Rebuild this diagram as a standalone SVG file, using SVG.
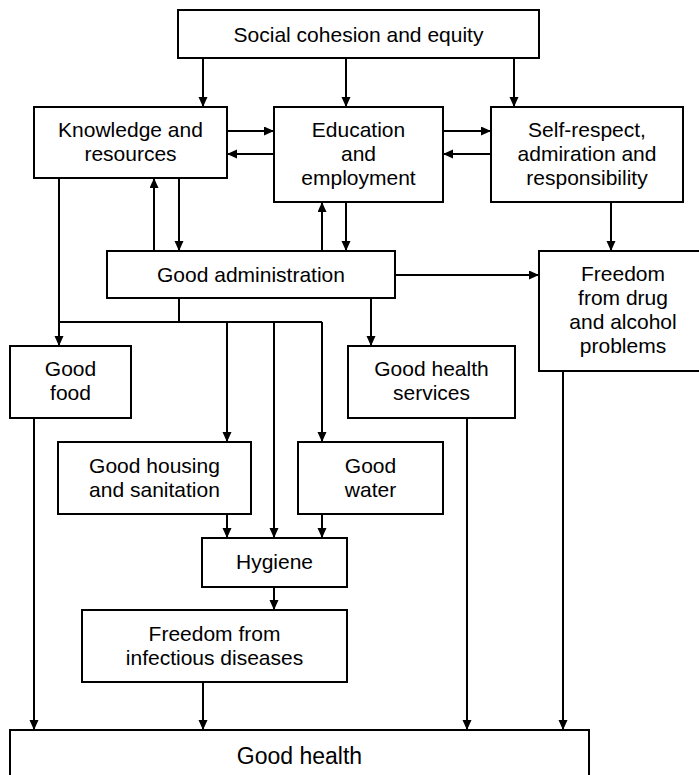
<svg xmlns="http://www.w3.org/2000/svg" width="699" height="775" viewBox="0 0 699 775">
<style>
.box{fill:#fff;stroke:#000;stroke-width:2}
.t{font-family:"Liberation Sans",Arial,sans-serif;font-size:21px;fill:#000;text-anchor:middle}
.c{fill:none;stroke:#000;stroke-width:2}
</style>
<defs>
<marker id="ah" markerUnits="userSpaceOnUse" markerWidth="11" markerHeight="10" refX="10" refY="4.5" orient="auto">
<path d="M0,0 L10,4.5 L0,9 z" fill="#000"/>
</marker>
</defs>
<rect width="699" height="775" fill="#fff"/>
<g id="connectors">
<path class="c" d="M203,58 V107" marker-end="url(#ah)"/>
<path class="c" d="M346,58 V107" marker-end="url(#ah)"/>
<path class="c" d="M514,58 V107" marker-end="url(#ah)"/>
<path class="c" d="M227,131 H274" marker-end="url(#ah)"/>
<path class="c" d="M274,154 H227" marker-end="url(#ah)"/>
<path class="c" d="M443,131 H491" marker-end="url(#ah)"/>
<path class="c" d="M491,154 H443" marker-end="url(#ah)"/>
<path class="c" d="M59,178 V346" marker-end="url(#ah)"/>
<path class="c" d="M154,251 V178" marker-end="url(#ah)"/>
<path class="c" d="M179,178 V251" marker-end="url(#ah)"/>
<path class="c" d="M322,251 V202" marker-end="url(#ah)"/>
<path class="c" d="M346,202 V251" marker-end="url(#ah)"/>
<path class="c" d="M395,275 H539" marker-end="url(#ah)"/>
<path class="c" d="M611,202 V251" marker-end="url(#ah)"/>
<path class="c" d="M371,298 V346" marker-end="url(#ah)"/>
<path class="c" d="M179,298 V322 M59,322 H322"/>
<path class="c" d="M227,322 V442" marker-end="url(#ah)"/>
<path class="c" d="M274,322 V538" marker-end="url(#ah)"/>
<path class="c" d="M322,322 V442" marker-end="url(#ah)"/>
<path class="c" d="M227,514 V538" marker-end="url(#ah)"/>
<path class="c" d="M322,514 V538" marker-end="url(#ah)"/>
<path class="c" d="M274,587 V610" marker-end="url(#ah)"/>
<path class="c" d="M34,418 V730" marker-end="url(#ah)"/>
<path class="c" d="M203,682 V730" marker-end="url(#ah)"/>
<path class="c" d="M467,418 V730" marker-end="url(#ah)"/>
<path class="c" d="M563,371 V730" marker-end="url(#ah)"/>
</g>
<g id="social"><rect class="box" x="178" y="10" width="361" height="48"/><text class="t" x="358.5" y="41.5">Social cohesion and equity</text></g>
<g id="knowledge"><rect class="box" x="34" y="107" width="193" height="71"/><text class="t" x="130.5" y="137">Knowledge and</text><text class="t" x="130.5" y="161">resources</text></g>
<g id="education"><rect class="box" x="274" y="107" width="169" height="95"/><text class="t" x="358.5" y="137">Education</text><text class="t" x="358.5" y="161">and</text><text class="t" x="358.5" y="185">employment</text></g>
<g id="selfrespect"><rect class="box" x="491" y="107" width="192" height="95"/><text class="t" x="587" y="137">Self-respect,</text><text class="t" x="587" y="161">admiration and</text><text class="t" x="587" y="185">responsibility</text></g>
<g id="admin"><rect class="box" x="107" y="251" width="288" height="47"/><text class="t" x="251" y="282">Good administration</text></g>
<g id="drug"><rect class="box" x="539" y="251" width="170" height="120"/><text class="t" x="623" y="281">Freedom</text><text class="t" x="623" y="305">from drug</text><text class="t" x="623" y="329">and alcohol</text><text class="t" x="623" y="353">problems</text></g>
<g id="food"><rect class="box" x="10" y="346" width="121" height="72"/><text class="t" x="70.5" y="376">Good</text><text class="t" x="70.5" y="400">food</text></g>
<g id="services"><rect class="box" x="348" y="346" width="167" height="72"/><text class="t" x="431.5" y="376">Good health</text><text class="t" x="431.5" y="400">services</text></g>
<g id="housing"><rect class="box" x="58" y="442" width="193" height="72"/><text class="t" x="154.5" y="473">Good housing</text><text class="t" x="154.5" y="497">and sanitation</text></g>
<g id="water"><rect class="box" x="298" y="442" width="145" height="72"/><text class="t" x="370.5" y="473">Good</text><text class="t" x="370.5" y="497">water</text></g>
<g id="hygiene"><rect class="box" x="202" y="538" width="145" height="49"/><text class="t" x="274.5" y="569">Hygiene</text></g>
<g id="infectious"><rect class="box" x="82" y="610" width="265" height="72"/><text class="t" x="214.5" y="641">Freedom from</text><text class="t" x="214.5" y="665">infectious diseases</text></g>
<g id="health"><rect class="box" x="10" y="730" width="579" height="60"/><text class="t" x="299.5" y="764" style="font-size:23px">Good health</text></g>
</svg>
